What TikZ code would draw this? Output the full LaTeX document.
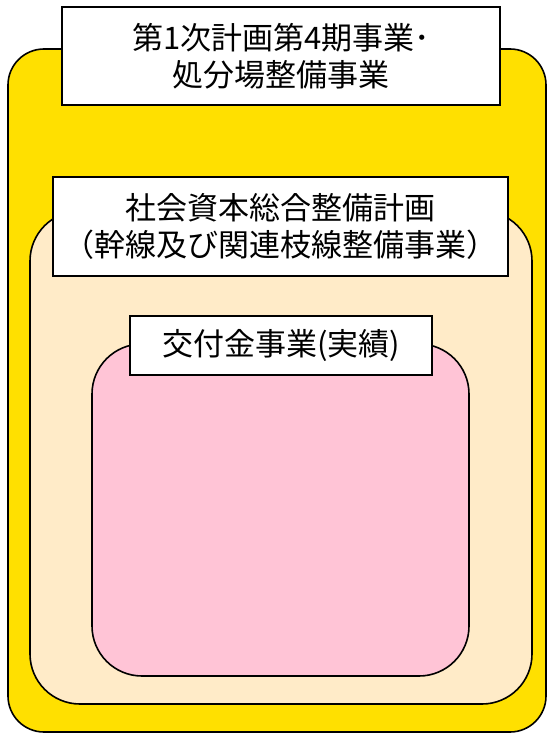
\documentclass[tikz,border=0pt]{standalone}
\usepackage{fontspec}
\setmainfont{Noto Sans CJK JP}
\usetikzlibrary{positioning}
\definecolor{planyellow}{RGB}{255,224,0}
\definecolor{grantbeige}{RGB}{255,235,200}
\definecolor{resultpink}{RGB}{255,196,214}

\begin{document}
\begin{tikzpicture}[x=1pt,y=-1pt]
\tikzstyle{every node}=[inner sep=0pt]
\tikzstyle{panel}=[draw=black,line width=1.6pt]
\tikzstyle{caption}=[draw=black,fill=white,line width=1.5pt,align=center]
\tikzset{font=\fontsize{31pt}{37pt}\selectfont}

\useasboundingbox (0,0) rectangle (547,733);

        \node[panel,fill=planyellow,minimum width=538pt,minimum height=683pt,rounded corners=36pt]     (plan)       at (277,390.5)  {};
        \node[caption,minimum width=438pt,minimum height=98pt]                                      (planlabel)  at (281,56)     {第1次計画第4期事業･\\処分場整備事業};

        \node[panel,fill=grantbeige,minimum width=502pt,minimum height=493pt,rounded corners=50pt]     (grant)      at (281,457.5)  {};
        \node[caption,minimum width=455pt,minimum height=99pt]                                      (grantlabel) at (280.5,226.5) {社会資本総合整備計画\\（幹線及び関連枝線整備事業）};

        \node[panel,fill=resultpink,minimum width=377pt,minimum height=332pt,rounded corners=50pt]     (result)     at (280.5,510)  {};
        \node[caption,minimum width=302pt,minimum height=59pt]                                      (resultlabel) at (281,345.5) {交付金事業(実績)};

\end{tikzpicture}
\end{document}
